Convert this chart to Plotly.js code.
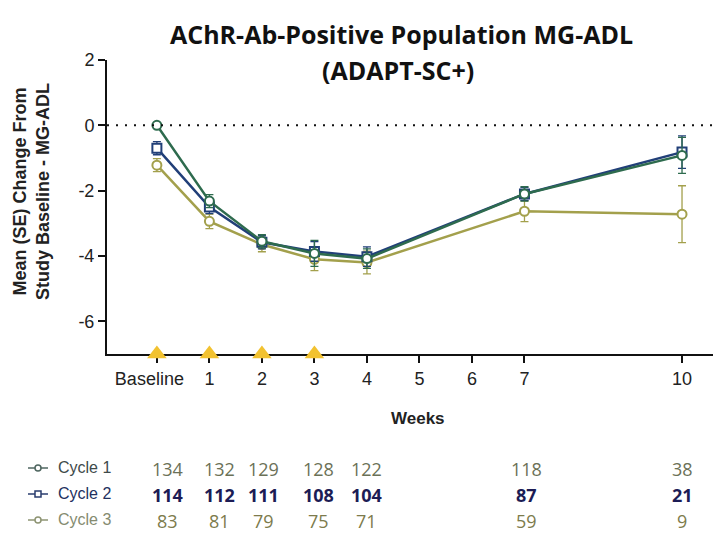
<!DOCTYPE html>
<html>
<head>
<meta charset="utf-8">
<script src="https://cdn.plot.ly/plotly-3.0.1.min.js"></script>
<style>html,body{margin:0;padding:0;background:#fff;}#chart{width:713px;height:536px;}</style>
</head>
<body>
<div id="chart"></div>
<script>
var weeks = [0, 1, 2, 3, 4, 7, 10];
var tickVals = [0, 1, 2, 3, 4, 5, 6, 7, 10];
var tickText = ['Baseline\u00a0\u00a0\u00a0', '1', '2', '3', '4', '5', '6', '7', '10'];
var yTickVals = [-6, -4, -2, 0, 2];
var yTickText = ['-6', '-4', '-2', '0', '2'];
var dosingWeeks = [0, 1, 2, 3];

var cycle1Mean = [0, -2.32, -3.55, -3.92, -4.08, -2.1, -0.92];
var cycle1SE   = [0, 0.2, 0.2, 0.4, 0.3, 0.22, 0.55];
var cycle2Mean = [-0.7, -2.5, -3.58, -3.86, -4.02, -2.1, -0.82];
var cycle2SE   = [0.2, 0.2, 0.2, 0.3, 0.3, 0.2, 0.5];
var cycle3Mean = [-1.22, -2.94, -3.65, -4.1, -4.2, -2.63, -2.72];
var cycle3SE   = [0.2, 0.22, 0.22, 0.35, 0.35, 0.32, 0.87];

var n1 = [134, 132, 129, 128, 122, 118, 38];
var n2 = [114, 112, 111, 108, 104, 87, 21];
var n3 = [83, 81, 79, 75, 71, 59, 9];
var seriesNames = ['Cycle 1', 'Cycle 2', 'Cycle 3'];

var c1 = '#2e6b4e', c2 = '#213f78', c3 = '#a3a04c';

function tr(mean, se, color, sym, size, name) {
  return {
    x: weeks, y: mean, name: name, type: 'scatter', mode: 'lines+markers',
    line: {color: color, width: 2.5},
    marker: {symbol: sym, size: size, color: '#ffffff', line: {color: color, width: 2}},
    error_y: {type: 'data', array: se, visible: true, color: color, thickness: 1.3, width: 4},
    cliponaxis: false, showlegend: false
  };
}
var data = [
  tr(cycle3Mean, cycle3SE, c3, 'circle', 9, seriesNames[2]),
  tr(cycle2Mean, cycle2SE, c2, 'square', 9, seriesNames[1]),
  tr(cycle1Mean, cycle1SE, c1, 'circle', 9, seriesNames[0]),
  {x: dosingWeeks, y: dosingWeeks.map(function(){return -7;}), type: 'scatter', mode: 'markers',
   marker: {symbol: 'triangle-up', size: 17, color: '#f2c230', line: {width: 0}},
   cliponaxis: false, showlegend: false, hoverinfo: 'skip'}
];

var L = 107, R = 713, T = 60, B = 354;
function px(x) { return (x - L) / (R - L); }
function py(y) { return (B - y) / (B - T); }

var ann = [
  {text: '<b>AChR-Ab-Positive Population MG-ADL</b>', xref: 'paper', yref: 'paper', x: px(401), y: py(34),
   xanchor: 'center', yanchor: 'middle',
   showarrow: false, font: {family: 'Open Sans', size: 25, color: '#111'}},
  {text: '<b>(ADAPT-SC+)</b>', xref: 'paper', yref: 'paper', x: px(398), y: py(70),
   xanchor: 'center', yanchor: 'middle',
   showarrow: false, font: {family: 'Open Sans', size: 25, color: '#111'}},
  {text: '<b>Mean (SE) Change From<br>Study Baseline - MG-ADL</b>', xref: 'paper', yref: 'paper',
   x: px(31), y: py(192), xanchor: 'center', yanchor: 'middle', textangle: -90, showarrow: false,
   font: {family: 'Liberation Sans', size: 18, color: '#222'}},
  {text: '<b>Weeks</b>', xref: 'paper', yref: 'paper', x: px(418), y: py(418), xanchor: 'center', yanchor: 'middle',
   showarrow: false, font: {family: 'Liberation Sans', size: 17, color: '#222'}}
];

var colShift = [11, 10, 2, 4, 0, 2, 0];
var rows = [
  {n: n1, color: '#6b7157', bold: false, y: 469, lc: '#4f6660', tc: '#3e4a4a', sym: 'circle'},
  {n: n2, color: '#1c1c55', bold: true, y: 495, lc: '#2a3d6e', tc: '#22305e', sym: 'square'},
  {n: n3, color: '#7d7b4c', bold: false, y: 521, lc: '#8e9473', tc: '#858b70', sym: 'circle'}
];
var shapes = [
  {type: 'line', xref: 'paper', yref: 'y', x0: 0, x1: 1, y0: 0, y1: 0,
   line: {color: '#111', width: 2, dash: '2px,7px'}}
];
rows.forEach(function(r, i) {
  r.n.forEach(function(v, j) {
    ann.push({text: r.bold ? '<b>' + v + '</b>' : String(v), xref: 'x', yref: 'paper', x: weeks[j],
      xshift: colShift[j], y: py(r.y), xanchor: 'center', yanchor: 'middle', showarrow: false,
      font: {family: 'Open Sans', size: 18, color: r.color}});
  });
  ann.push({text: seriesNames[i], xref: 'paper', yref: 'paper', x: px(56), xanchor: 'left', yanchor: 'middle',
    y: py(r.y - 2), showarrow: false,
    font: {family: 'Liberation Sans Narrow, Liberation Sans', size: 16, color: r.tc}});
  shapes.push({type: 'line', xref: 'paper', yref: 'paper', x0: px(28), x1: px(48), y0: py(r.y - 1), y1: py(r.y - 1),
    line: {color: r.lc, width: 1.5}});
  shapes.push({type: r.sym === 'circle' ? 'circle' : 'rect', xref: 'paper', yref: 'paper',
    x0: px(35), x1: px(41), y0: py(r.y + 2), y1: py(r.y - 4),
    fillcolor: '#fff', line: {color: r.lc, width: 1.5}});
});

var layout = {
  width: 713, height: 536,
  margin: {l: L, r: 0, t: T, b: 536 - B, pad: 0},
  paper_bgcolor: '#fff', plot_bgcolor: '#fff',
  showlegend: false,
  xaxis: {range: [-0.95, 10.59], tickvals: tickVals, ticktext: tickText, showgrid: false, zeroline: false,
    showline: true, linecolor: '#111', linewidth: 2, ticks: 'outside', ticklen: 7, tickwidth: 2, tickcolor: '#111',
    layer: 'below traces',
    tickfont: {family: 'Liberation Sans', size: 18, color: '#222'}, fixedrange: true},
  yaxis: {range: [-7, 2], tickvals: yTickVals, ticktext: yTickText, showgrid: false, zeroline: false,
    showline: true, linecolor: '#111', linewidth: 2, ticks: 'outside', ticklen: 7, tickwidth: 2, tickcolor: '#111',
    layer: 'below traces',
    tickfont: {family: 'Liberation Sans', size: 18, color: '#222'}, fixedrange: true},
  annotations: ann,
  shapes: shapes
};
Plotly.newPlot('chart', data, layout, {displayModeBar: false, staticPlot: true});
</script>
</body>
</html>
